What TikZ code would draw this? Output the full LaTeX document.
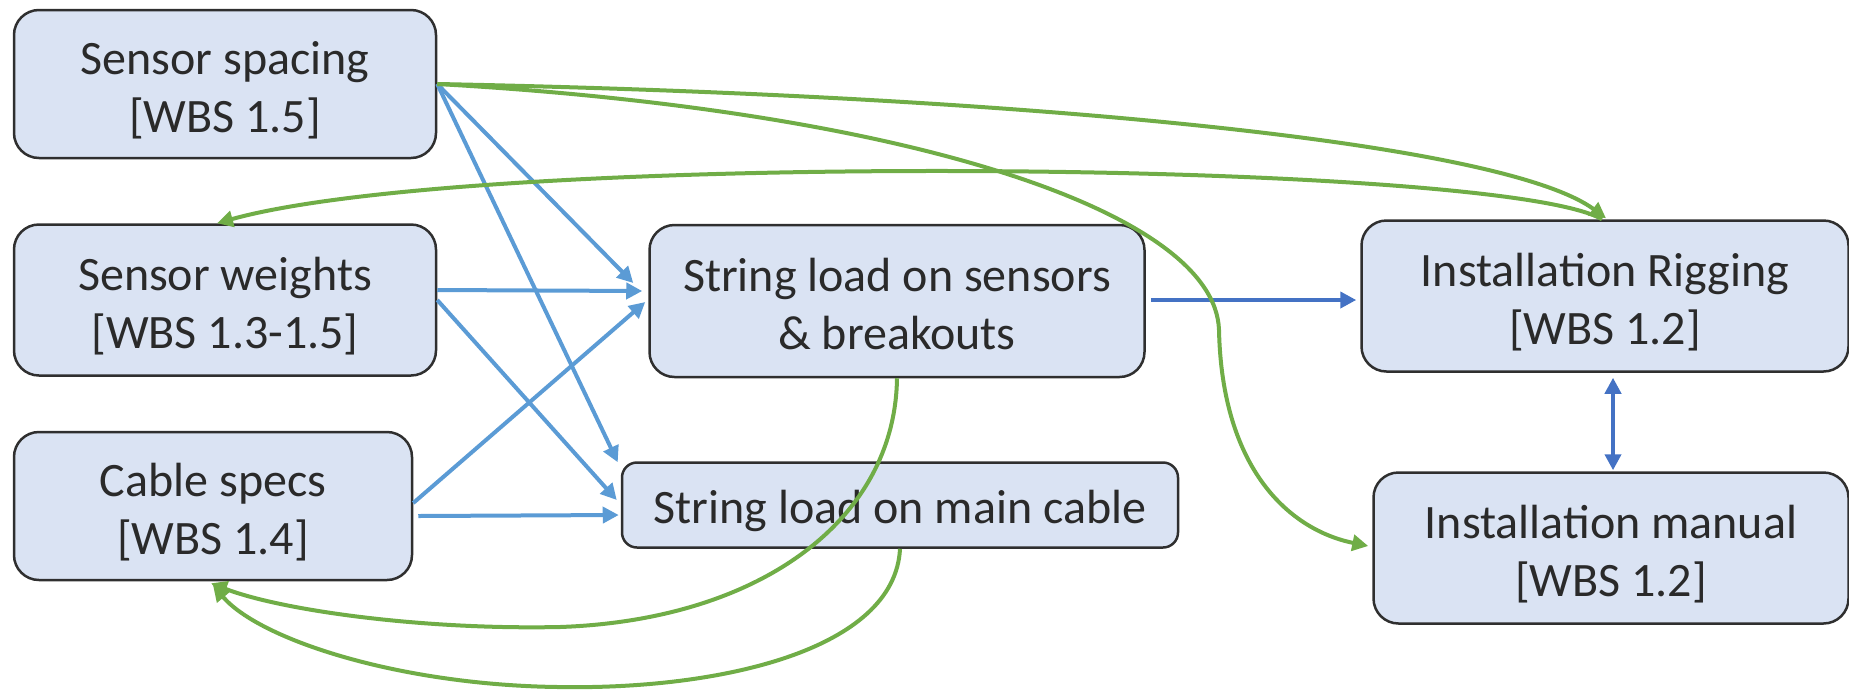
\documentclass[tikz,border=0pt]{standalone}
\usepackage{fontspec}
\setmainfont{Carlito}
\usetikzlibrary{arrows.meta,calc}
\definecolor{boxfill}{HTML}{DAE3F3}
\definecolor{boxline}{HTML}{2F2F2F}
\definecolor{txt}{HTML}{2A2A2A}
\definecolor{lblue}{HTML}{5B9BD5}
\definecolor{dblue}{HTML}{4472C4}
\definecolor{lgreen}{HTML}{70AD47}
% box text: first baseline placed #1 above the box centre
\newcommand\boxlines[2]{\raisebox{#1}[0pt][0pt]{\begin{tabular}[t]{@{}c@{}}#2\end{tabular}}}
\tikzset{
  box/.style={draw=boxline, line width=2.5pt, fill=boxfill, rounded corners=25pt,
    text=txt, font=\fontsize{48}{58}\selectfont, inner sep=0pt},
  tip/.style={-{Triangle[length=16pt,width=16pt]}},
  feed/.style={tip, draw=lblue, line width=4pt},
  link/.style={tip, draw=dblue, line width=4pt},
  loop/.style={tip, draw=lgreen, line width=4pt},
}
\begin{document}
\begin{tikzpicture}[x=1pt,y=-1pt]
\useasboundingbox (0,0) rectangle (1849,689);

% task boxes
\node[box, minimum width=422pt, minimum height=148pt] (ss) at (225,84) {\boxlines{10pt}{Sensor spacing\\{}[WBS 1.5]}};
\node[box, minimum width=422pt, minimum height=151pt] (sw) at (225,300) {\boxlines{10pt}{Sensor weights\\{}[WBS 1.3-1.5]}};
\node[box, minimum width=398pt, minimum height=148pt] (cs) at (213,506) {\boxlines{10pt}{Cable specs\\{}[WBS 1.4]}};
\node[box, minimum width=495pt, minimum height=152pt] (sls) at (897,301) {\boxlines{10pt}{String load on sensors\\\& breakouts}};
\node[box, rounded corners=15pt, minimum width=556pt, minimum height=85pt] (slm) at (900,505) {\boxlines{-18.5pt}{String load on main cable}};
\node[box, minimum width=487pt, minimum height=151pt] (ir) at (1605,296) {\boxlines{10pt}{Installation Rigging\\{}[WBS 1.2]}};
\node[box, minimum width=475pt, minimum height=151pt] (im) at (1611,548) {\boxlines{10pt}{Installation manual\\{}[WBS 1.2]}};

% inputs to the load calculations
\draw[feed] (ss.east) -- ($(sls.west)+(-15,-18)$);
\draw[feed] (ss.east) -- ($(slm.north west)+(-3,1)$);
\draw[feed] ($(sw.east)+(0,-10)$) -- ($(sls.west)+(-6,-10)$);
\draw[feed] (sw.east) -- ($(slm.west)+(-4,-5)$);
\draw[feed] ($(cs.east)+(0,-3)$) -- ($(sls.west)+(-3,1)$);
\draw[feed] ($(cs.east)+(5,10)$) -- ($(slm.west)+(-2,10)$);

% rigging and manual
\draw[link] ($(sls.east)+(5,-1)$) -- ($(ir.west)+(-4,4)$);
\draw[link, {Triangle[length=16pt,width=16pt]}-{Triangle[length=16pt,width=16pt]}]
  ($(ir.south)+(8,5)$) -- ($(im.north)+(2,-1)$);

% feedback loops
\draw[loop] (ss.east) .. controls (1000,95) and (1500,140) .. ($(ir.north)+(1,-1)$);
\draw[loop] ($(ir.north)+(-3,0)$) .. controls (1500,160) and (480,150) .. ($(sw.north)+(-8,0)$);
\draw[loop] (ss.east) .. controls (900,110) and (1215,210) .. (1219,330)
  .. controls (1222,470) and (1290,530) .. ($(im.west)+(-4,-2)$);
\draw[loop] (sls.south) .. controls (895,520) and (760,620) .. (560,627)
  .. controls (420,630) and (280,610) .. ($(cs.south)+(-2,2)$);
\draw[loop] (slm.south) .. controls (895,650) and (720,690) .. (558,687)
  .. controls (400,685) and (260,640) .. ($(cs.south)+(0,4)$);
\end{tikzpicture}
\end{document}
